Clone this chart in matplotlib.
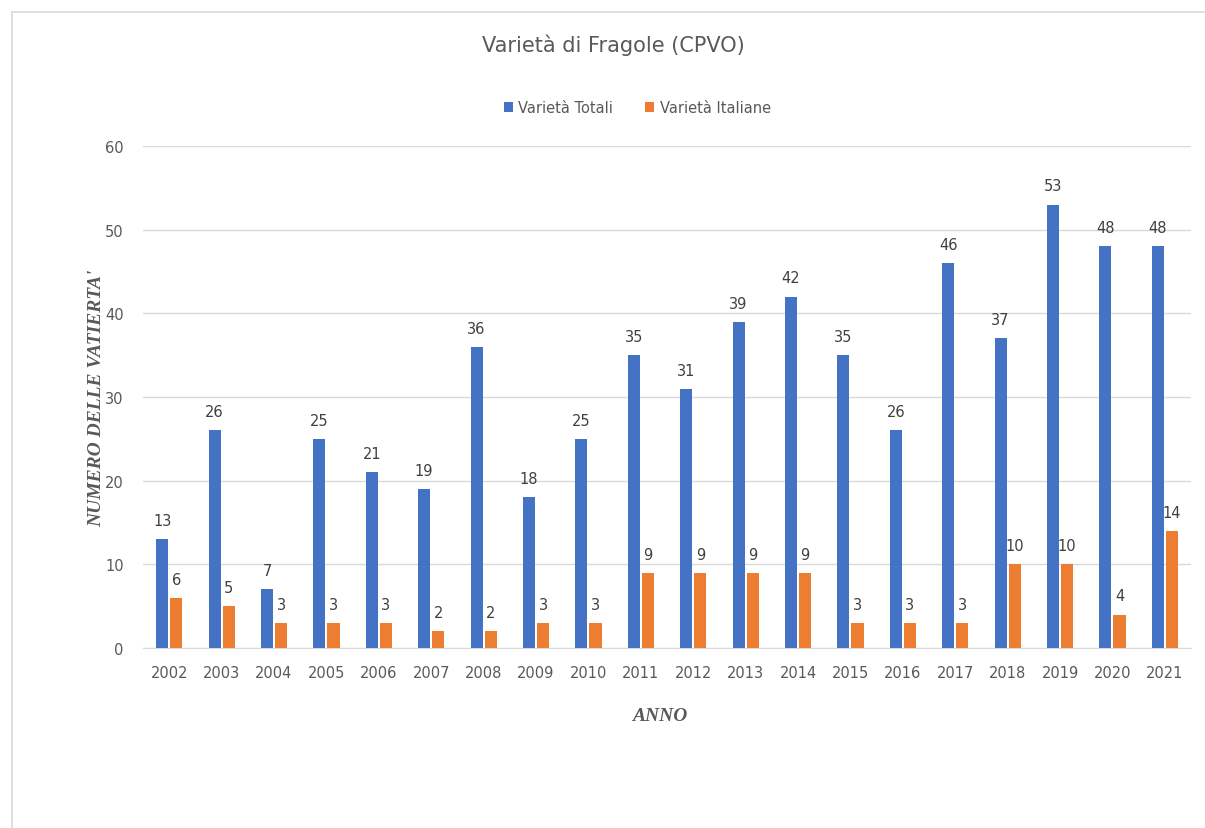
import numpy as np
import matplotlib.pyplot as plt
from matplotlib.lines import Line2D

""" Dati """
anni = ['2002', '2003', '2004', '2005', '2006', '2007', '2008', '2009', '2010', '2011',
        '2012', '2013', '2014', '2015', '2016', '2017', '2018', '2019', '2020', '2021']
varietaTotali = [13, 26, 7, 25, 21, 19, 36, 18, 25, 35, 31, 39, 42, 35, 26, 46, 37, 53, 48, 48]
varietaItaliane = [6, 5, 3, 3, 3, 2, 2, 3, 3, 9, 9, 9, 9, 3, 3, 3, 10, 10, 4, 14]

blu = '#4472C4'
arancio = '#ED7D31'
grigio = '#595959'

fig = plt.figure(figsize=(12.05, 8.29), dpi=100)
ax = fig.add_axes([0.1187, 0.2171, 0.8697, 0.6056])

x = np.arange(len(anni))
w = 0.23
off = 0.135
b1 = ax.bar(x - off, varietaTotali, w, color=blu, label='Varietà Totali', zorder=3)
b2 = ax.bar(x + off, varietaItaliane, w, color=arancio, label='Varietà Italiane', zorder=3)
ax.bar_label(b1, padding=8, fontsize=10.5, color='#404040')
ax.bar_label(b2, padding=8, fontsize=10.5, color='#404040')

ax.set_xlim(-0.5, len(anni) - 0.5)
ax.set_ylim(0, 60)
ax.set_yticks(np.arange(0, 61, 10))
ax.set_xticks(x)
ax.set_xticklabels(anni)
ax.tick_params(axis='both', length=0, labelsize=10.5, labelcolor=grigio)
ax.tick_params(axis='x', pad=12)
ax.tick_params(axis='y', pad=14)
ax.grid(axis='y', color='#D9D9D9', linewidth=1, zorder=0)
for s in ['top', 'right', 'left']:
    ax.spines[s].set_visible(False)
ax.spines['bottom'].set_color('#D9D9D9')

ax.set_xlabel('ANNO', fontfamily='Liberation Serif', fontstyle='italic', fontweight='bold',
              fontsize=14, color=grigio, va='center')
ax.set_ylabel("NUMERO DELLE VATIERTA'", fontfamily='Liberation Serif', fontstyle='italic',
              fontweight='bold', fontsize=14, color=grigio, va='center')
ax.xaxis.set_label_coords(0.4933, -0.1335)
ax.yaxis.set_label_coords(-0.0439, 0.5)

fig.text(0.5087, 0.946, 'Varietà di Fragole (CPVO)', ha='center', va='center', fontsize=15, color=grigio)
fig.legend(loc='center', bbox_to_anchor=(0.529, 0.869), ncol=2, frameon=False, fontsize=10.5,
           labelcolor=grigio, handlelength=0.6, handleheight=0.6, handletextpad=0.4, columnspacing=2.2)

# bordo del grafico
fig.add_artist(Line2D([0.01, 1.0], [0.984, 0.984], color='#D9D9D9', linewidth=1.2, transform=fig.transFigure))
fig.add_artist(Line2D([0.01, 0.01], [0.0, 0.984], color='#D9D9D9', linewidth=1.2, transform=fig.transFigure))

plt.savefig('out.png', dpi=100)
